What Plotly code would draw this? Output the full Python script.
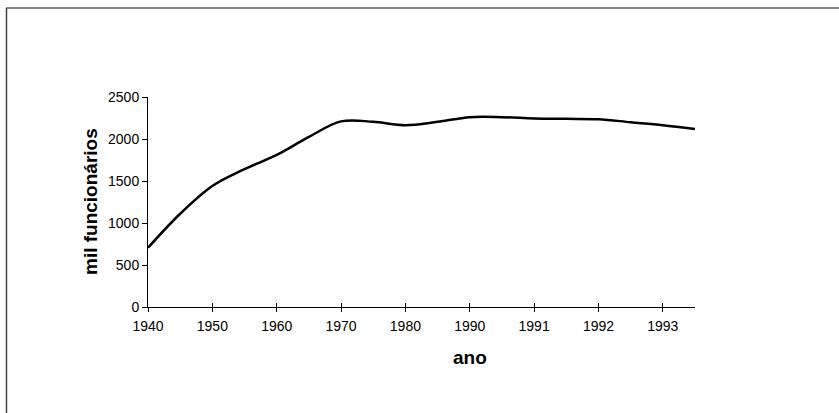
import plotly.graph_objects as go

# Employees (thousands) per reporting period; labels shown on every other category
tick_labels = ["1940", "1950", "1960", "1970", "1980", "1990", "1991", "1992", "1993"]
values = [705, 1110, 1440, 1640, 1810, 2025, 2210, 2205, 2165,
          2205, 2260, 2260, 2245, 2240, 2235, 2200, 2165, 2120]

W, H = 839, 413
L, R, T, B = 148, 144, 97, 106
pw, ph = W - L - R, H - T - B

def px_x(p):
    return (p - L) / pw

def px_y(p):
    return (H - B - p) / ph

x_idx = list(range(len(values)))
tick_pos = x_idx[::2]

fig = go.Figure()
fig.add_trace(go.Scatter(
    x=x_idx, y=values, mode="lines",
    line=dict(color="black", width=2.5, shape="spline", smoothing=1.0),
    showlegend=False, hoverinfo="skip",
))

tick_font = dict(family="Liberation Sans, Arial, sans-serif", size=14, color="black")

fig.update_layout(
    width=W, height=H,
    margin=dict(l=L, r=R, t=T, b=B),
    paper_bgcolor="white", plot_bgcolor="white",
    xaxis=dict(
        range=[0, len(values) - 1], tickmode="array",
        tickvals=tick_pos, ticktext=tick_labels,
        showline=True, linecolor="black", linewidth=1,
        ticks="outside", ticklen=4, tickcolor="black", tickwidth=1,
        ticklabelstandoff=2,
        showgrid=False, zeroline=False, tickfont=tick_font,
    ),
    xaxis2=dict(
        overlaying="x", matches="x", anchor="y", side="bottom",
        tickmode="array", tickvals=tick_pos,
        ticks="inside", ticklen=4, tickcolor="black", tickwidth=1,
        showticklabels=False, showgrid=False, zeroline=False, showline=False,
    ),
    yaxis=dict(
        range=[0, 2500], tickmode="array", tickvals=[0, 500, 1000, 1500, 2000, 2500],
        showline=True, linecolor="black", linewidth=1,
        ticks="outside", ticklen=5, tickcolor="black", tickwidth=1,
        showgrid=False, zeroline=False, tickfont=tick_font,
    ),
    font=tick_font,
)

# invisible trace to keep the overlay axis drawn
fig.add_trace(go.Scatter(x=[0], y=[0], xaxis="x2", mode="markers",
                         marker=dict(opacity=0), showlegend=False, hoverinfo="skip"))

title_font = dict(family="Liberation Sans, Arial, sans-serif", size=19, color="black")
fig.add_annotation(text="<b>mil funcionários</b>", textangle=-90,
                   x=px_x(90), y=px_y(202), xref="paper", yref="paper",
                   showarrow=False, font=title_font, xanchor="center", yanchor="middle")
fig.add_annotation(text="<b>ano</b>",
                   x=px_x(470), y=px_y(357), xref="paper", yref="paper",
                   showarrow=False, font=title_font, xanchor="center", yanchor="middle")

# outer frame (top and left edges)
fig.add_shape(type="line", xref="paper", yref="paper",
              x0=px_x(6), x1=px_x(W + 5), y0=px_y(8), y1=px_y(8),
              line=dict(color="#888888", width=2))
fig.add_shape(type="line", xref="paper", yref="paper",
              x0=px_x(6.5), x1=px_x(6.5), y0=px_y(8), y1=px_y(H + 5),
              line=dict(color="#444444", width=1.5))

fig.write_html("out.html")
